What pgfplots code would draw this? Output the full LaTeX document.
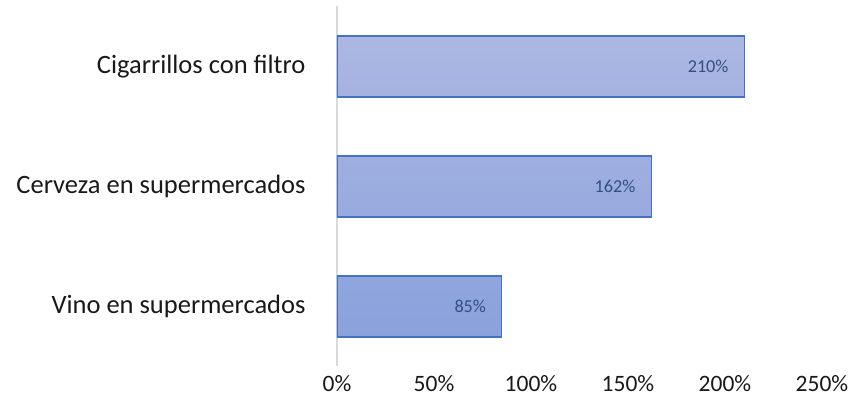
\documentclass[border=0pt]{standalone}
\usepackage{fontspec}
\setmainfont{Carlito}
\usepackage{pgfplots}
\pgfplotsset{compat=1.18}
\definecolor{barline}{RGB}{68,114,196}
\definecolor{bartop}{RGB}{172,183,226}
\definecolor{barbot}{RGB}{138,161,220}
\definecolor{lblblue}{RGB}{50,80,130}
\definecolor{axgray}{RGB}{217,217,217}
\begin{document}
\begin{tikzpicture}[font=\fontsize{26.5}{30}\selectfont]
\begin{axis}[
    at={(337pt,45.5pt)}, anchor=south west,
    scale only axis,
    width=485pt, height=360pt,
    xbar, bar width=61pt,
    xmin=0, xmax=250,
    ymin=-0.5, ymax=2.5,
    ytick={0,1,2},
    yticklabels={Vino en supermercados, Cerveza en supermercados, Cigarrillos con filtro},
    xtick={0,50,100,150,200,250},
    xticklabels={0\%,50\%,100\%,150\%,200\%,250\%},
    axis x line*=bottom,
    x axis line style={draw=none},
    axis y line*=left,
    y axis line style={axgray, line width=1.2pt, -},
    major tick length=0pt,
    xticklabel style={text=black!90, yshift=-5pt, font=\fontsize{23.5}{28}\selectfont},
    yticklabel style={text=black!90, xshift=-28pt},
    point meta=x,
    nodes near coords={\pgfmathprintnumber[assume math mode=true]{\pgfplotspointmeta}\%},
    nodes near coords style={font=\fontsize{18.2}{22}\selectfont, text=lblblue, anchor=east, xshift=-12pt},
]
\addplot[draw=barline, line width=1.2pt, top color=bartop, bottom color=barbot] coordinates {(85,0) (162,1) (210,2)};
\end{axis}
\pgfresetboundingbox
\path (0,0) rectangle (852pt,412pt);
\end{tikzpicture}
\end{document}
